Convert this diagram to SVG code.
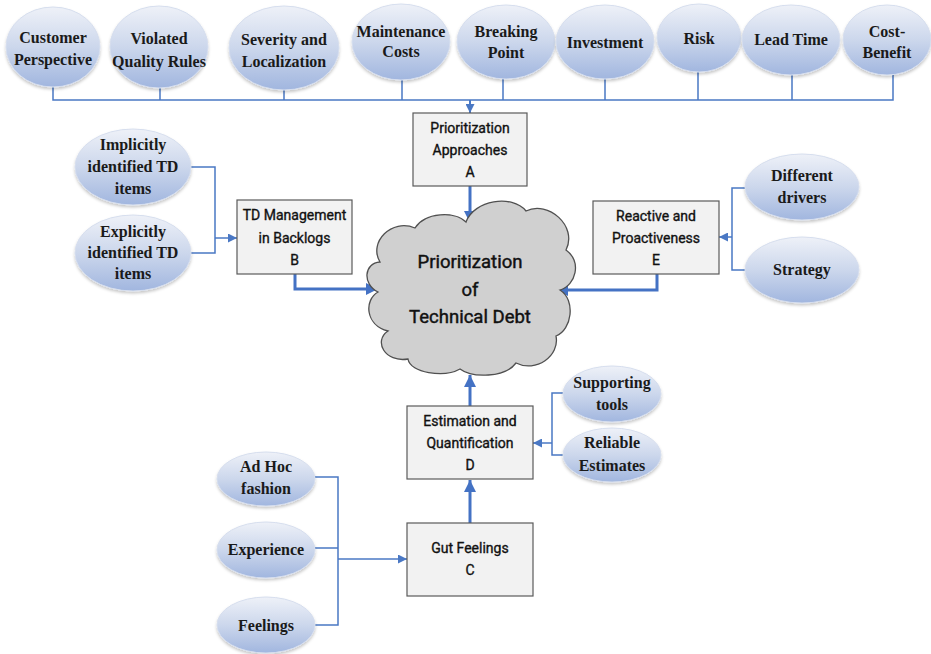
<svg xmlns="http://www.w3.org/2000/svg" width="931" height="654" viewBox="0 0 931 654">
<defs>
<linearGradient id="eg" x1="0" y1="0" x2="0" y2="1">
<stop offset="0" stop-color="#eef1f8"/>
<stop offset="0.5" stop-color="#ccd7ec"/>
<stop offset="1" stop-color="#a1b6df"/>
</linearGradient>
<filter id="sh" x="-20%" y="-20%" width="140%" height="150%">
<feDropShadow dx="0" dy="2" stdDeviation="1.5" flood-color="#000" flood-opacity="0.22"/>
</filter>
<marker id="ah" markerUnits="userSpaceOnUse" markerWidth="12" markerHeight="12" viewBox="0 0 12 12" refX="12" refY="6" orient="auto">
<path d="M0,0 L12,6 L0,12 Z" fill="#4472c4"/>
</marker>
<marker id="as" markerUnits="userSpaceOnUse" markerWidth="9" markerHeight="9" viewBox="0 0 9 9" refX="9" refY="4.5" orient="auto">
<path d="M0,0 L9,4.5 L0,9 Z" fill="#4a78c4"/>
</marker>
</defs>
<style>
.el{fill:url(#eg);stroke:#d6deee;stroke-width:1;filter:url(#sh)}
.et{font-family:"Liberation Serif",serif;font-weight:bold;font-size:16px;fill:#1a1a1a;text-anchor:middle}
.bx{fill:#f2f2f2;stroke:#5a5a5a;stroke-width:1.2}
.bt{font-family:Roboto,"Liberation Sans",sans-serif;font-size:14px;fill:#111;stroke:#111;stroke-width:0.35;text-anchor:middle}
.ct{font-family:Roboto,"Liberation Sans",sans-serif;font-size:18.5px;fill:#111;stroke:#111;stroke-width:0.45;text-anchor:middle}
.thin{fill:none;stroke:#4a78c4;stroke-width:1.5}
.thick{fill:none;stroke:#4472c4;stroke-width:3}
</style>

<g id="connectors">
<path class="thin" d="M53,87 V100 H893 V75"/>
<path class="thin" d="M160,88 V100 M284,90 V100 M402,80 V100 M503,78 V100 M605,78 V100 M698,72 V100 M792,75 V100"/>
<path class="thin" style="stroke-width:2" d="M470,100 V113" marker-end="url(#as)"/>
<path class="thick" d="M470,186 V223" marker-end="url(#ah)"/>
<path class="thin" d="M190,167 H215 V253 H190"/>
<path class="thin" d="M215,238 H237" marker-end="url(#as)"/>
<path class="thick" d="M295,274 V289 H378" marker-end="url(#ah)"/>
<path class="thin" d="M745,188 H732 V270 H745"/>
<path class="thin" d="M732,237 H719" marker-end="url(#as)"/>
<path class="thick" d="M657,274 V290 H556" marker-end="url(#ah)"/>
<path class="thick" d="M470,406 V375" marker-end="url(#ah)"/>
<path class="thin" d="M563,393 H552 V455 H563"/>
<path class="thin" d="M552,443 H533" marker-end="url(#as)"/>
<path class="thick" d="M470,523 V480" marker-end="url(#ah)"/>
<path class="thin" d="M315,477 H338 V625 H315 M315,548 H338"/>
<path class="thin" d="M338,559 H407" marker-end="url(#as)"/>
</g>

<g id="customer-perspective"><ellipse class="el" cx="53" cy="47" rx="47" ry="40"/><text class="et" x="53" y="43">Customer</text><text class="et" x="53" y="65">Perspective</text></g>
<g id="violated-quality-rules"><ellipse class="el" cx="159" cy="47" rx="49" ry="41"/><text class="et" x="159" y="44">Violated</text><text class="et" x="159" y="67">Quality Rules</text></g>
<g id="severity-localization"><ellipse class="el" cx="284" cy="48" rx="55" ry="42"/><text class="et" x="284" y="45">Severity and</text><text class="et" x="284" y="67">Localization</text></g>
<g id="maintenance-costs"><ellipse class="el" cx="401" cy="42" rx="49" ry="38"/><text class="et" x="401" y="37">Maintenance</text><text class="et" x="401" y="57">Costs</text></g>
<g id="breaking-point"><ellipse class="el" cx="506" cy="42" rx="49" ry="37"/><text class="et" x="506" y="37">Breaking</text><text class="et" x="506" y="58">Point</text></g>
<g id="investment"><ellipse class="el" cx="605" cy="42" rx="49" ry="37"/><text class="et" x="605" y="48">Investment</text></g>
<g id="risk"><ellipse class="el" cx="699" cy="38" rx="42" ry="34"/><text class="et" x="699" y="44">Risk</text></g>
<g id="lead-time"><ellipse class="el" cx="791" cy="40" rx="49" ry="35"/><text class="et" x="791" y="45">Lead Time</text></g>
<g id="cost-benefit"><ellipse class="el" cx="887" cy="40" rx="44" ry="35"/><text class="et" x="887" y="37">Cost-</text><text class="et" x="887" y="58">Benefit</text></g>

<g id="box-a"><rect class="bx" x="413" y="113" width="114" height="73"/><text class="bt" x="470" y="133">Prioritization</text><text class="bt" x="470" y="155">Approaches</text><text class="bt" x="470" y="177">A</text></g>

<g id="cloud"><path d="M380,262 C368,242 392,218 415,228 C425,212 455,211 466,222 C474,200 512,194 526,211 C548,200 578,226 566,250 C582,262 576,285 560,290 C576,300 572,330 556,336 C560,356 536,373 516,363 C505,378 472,378 460,369 C444,378 410,373 408,359 C385,363 373,341 388,331 C365,325 364,300 378,292 C362,284 364,263 380,262 Z" fill="#d0d0d0" stroke="#505050" stroke-width="1.3"/><text class="ct" x="470" y="268">Prioritization</text><text class="ct" x="470" y="296">of</text><text class="ct" x="470" y="323">Technical Debt</text></g>

<g id="box-b"><rect class="bx" x="237" y="200" width="115" height="74"/><text class="bt" x="294.5" y="220">TD Management</text><text class="bt" x="294.5" y="243">in Backlogs</text><text class="bt" x="294.5" y="265">B</text></g>
<g id="implicitly"><ellipse class="el" cx="133" cy="167" rx="58" ry="38"/><text class="et" x="133" y="150">Implicitly</text><text class="et" x="133" y="172">identified TD</text><text class="et" x="133" y="194">items</text></g>
<g id="explicitly"><ellipse class="el" cx="133" cy="253" rx="58" ry="38"/><text class="et" x="133" y="237">Explicitly</text><text class="et" x="133" y="258">identified TD</text><text class="et" x="133" y="279">items</text></g>

<g id="box-e"><rect class="bx" x="593" y="201" width="126" height="73"/><text class="bt" x="656" y="221">Reactive and</text><text class="bt" x="656" y="243">Proactiveness</text><text class="bt" x="656" y="265">E</text></g>
<g id="different-drivers"><ellipse class="el" cx="802" cy="187" rx="57" ry="33"/><text class="et" x="802" y="181">Different</text><text class="et" x="802" y="203">drivers</text></g>
<g id="strategy"><ellipse class="el" cx="802" cy="270" rx="57" ry="33"/><text class="et" x="802" y="275">Strategy</text></g>

<g id="box-d"><rect class="bx" x="407" y="406" width="126" height="73"/><text class="bt" x="470" y="426">Estimation and</text><text class="bt" x="470" y="448">Quantification</text><text class="bt" x="470" y="470">D</text></g>
<g id="supporting-tools"><ellipse class="el" cx="612" cy="394" rx="49" ry="28"/><text class="et" x="612" y="388">Supporting</text><text class="et" x="612" y="410">tools</text></g>
<g id="reliable-estimates"><ellipse class="el" cx="612" cy="455" rx="49" ry="27"/><text class="et" x="612" y="448">Reliable</text><text class="et" x="612" y="471">Estimates</text></g>

<g id="box-c"><rect class="bx" x="407" y="523" width="126" height="73"/><text class="bt" x="470" y="553">Gut Feelings</text><text class="bt" x="470" y="575">C</text></g>
<g id="ad-hoc-fashion"><ellipse class="el" cx="266" cy="479" rx="49" ry="27"/><text class="et" x="266" y="472">Ad Hoc</text><text class="et" x="266" y="494">fashion</text></g>
<g id="experience"><ellipse class="el" cx="266" cy="550" rx="49" ry="28"/><text class="et" x="266" y="555">Experience</text></g>
<g id="feelings"><ellipse class="el" cx="266" cy="625" rx="49" ry="28"/><text class="et" x="266" y="631">Feelings</text></g>
</svg>
